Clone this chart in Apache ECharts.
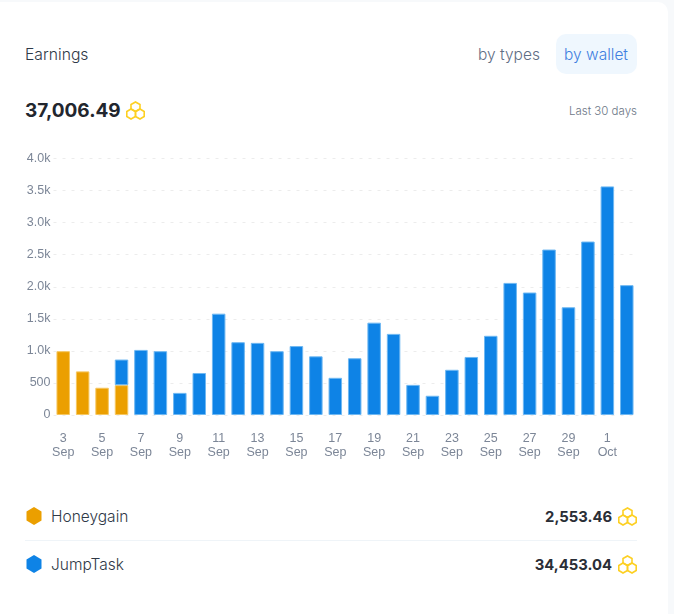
<!DOCTYPE html>
<html lang="en">
<head>
<meta charset="UTF-8">
<title>Earnings</title>
<script src="https://cdn.jsdelivr.net/npm/echarts@6/dist/echarts.min.js"></script>
<style>
  html, body { margin: 0; padding: 0; background: #f7f9fb; }
  body { width: 674px; height: 614px; overflow: hidden; position: relative; font-family: "Inter", "Noto Sans", sans-serif; }
  .card { position: absolute; left: -10px; top: 2px; width: 678px; height: 640px; background: #fff; border-radius: 10px; }
  .txt { position: absolute; white-space: nowrap; line-height: 20px; font-weight: 300; }
  #chart { position: absolute; left: 0; top: 140px; width: 674px; height: 340px; }
  .pill { position: absolute; left: 556px; top: 34px; width: 81px; height: 40px; background: #eff7fe; border-radius: 10px; }
  .rule { position: absolute; left: 25px; top: 540px; width: 612px; height: 1px; background: #eff4f8; }
  svg { position: absolute; }
</style>
</head>
<body>
<div class="card"></div>
<div class="txt" style="left:25px;top:45px;font-size:15.7px;color:#2f3947">Earnings</div>
<div class="txt" style="left:478px;top:45px;font-size:15.5px;color:#5f6e84">by types</div>
<div class="pill"></div>
<div class="txt" style="left:564px;top:45px;font-size:15.5px;color:#3f7fe0">by wallet</div>
<div class="txt" style="left:25px;top:101px;font-size:19px;font-weight:700;color:#22262e">37,006.49</div>
<svg style="left:126px;top:101px" width="19" height="19" viewBox="0 0 19 19"><use href="#coin"/></svg>
<div class="txt" style="right:37px;top:101px;font-size:11.5px;color:#6d7787">Last 30 days</div>

<div id="chart"></div>

<svg style="left:26px;top:507px" width="16" height="18" viewBox="0 0 16 18"><polygon points="8,0 15.5,4.5 15.5,13.5 8,18 .5,13.5 .5,4.5" fill="#eb9f00"/></svg>
<div class="txt" style="left:51px;top:507px;font-size:15.5px;color:#2f3947">Honeygain</div>
<div class="txt" style="right:62px;top:507px;font-size:14.8px;font-weight:700;color:#2a2e36">2,553.46</div>
<svg style="left:618px;top:507px" width="19" height="19" viewBox="0 0 19 19"><use href="#coin"/></svg>
<div class="rule"></div>
<svg style="left:26px;top:555px" width="16" height="18" viewBox="0 0 16 18"><polygon points="8,0 15.5,4.5 15.5,13.5 8,18 .5,13.5 .5,4.5" fill="#0e83e6"/></svg>
<div class="txt" style="left:51px;top:555px;font-size:15.5px;color:#2f3947">JumpTask</div>
<div class="txt" style="right:62px;top:555px;font-size:14.8px;font-weight:700;color:#2a2e36">34,453.04</div>
<svg style="left:618px;top:555px" width="19" height="19" viewBox="0 0 19 19"><use href="#coin"/></svg>

<svg width="0" height="0" style="position:absolute">
  <defs>
    <g id="coin" fill="none" stroke="#fdd023" stroke-width="1.6">
      <polygon points="9.5,1 14,3.5 14,8 9.5,10.5 5,8 5,3.5"/>
      <polygon points="5,8 9.5,10.5 9.5,15.5 5,18 .8,15.5 .8,10.5"/>
      <polygon points="14,8 18.2,10.5 18.2,15.5 14,18 9.5,15.5 9.5,10.5"/>
    </g>
  </defs>
</svg>

<script>
// one entry per day, 3 Sep to 2 Oct
const days = ['3','4','5','6','7','8','9','10','11','12','13','14','15','16','17','18','19','20','21','22','23','24','25','26','27','28','29','30','1','2'];
const months = ['Sep','Sep','Sep','Sep','Sep','Sep','Sep','Sep','Sep','Sep','Sep','Sep','Sep','Sep','Sep','Sep','Sep','Sep','Sep','Sep','Sep','Sep','Sep','Sep','Sep','Sep','Sep','Sep','Oct','Oct'];
const honeygain = [995,680,425,465,null,null,null,null,null,null,null,null,null,null,null,null,null,null,null,null,null,null,null,null,null,null,null,null,null,null];
const jumptask = [null,null,null,400,1015,995,345,655,1580,1135,1125,995,1075,915,580,885,1440,1265,470,300,705,905,1235,2060,1910,2580,1680,2705,3565,2025];

const categories = days.map((d, i) => d + '\n' + months[i]);

const chart = echarts.init(document.getElementById('chart'));
chart.setOption({
  animation: false,
  grid: { left: 53.5, right: 37.5, top: 18.5, bottom: 65 },
  xAxis: {
    type: 'category',
    data: categories,
    axisLine: { show: false },
    axisTick: { show: false },
    axisLabel: { interval: 1, margin: 17, color: '#7c8697', fontSize: 12.5, lineHeight: 14, fontFamily: 'Liberation Sans' }
  },
  yAxis: {
    type: 'value',
    min: 0,
    max: 4000,
    interval: 500,
    axisLine: { show: false },
    axisTick: { show: false },
    axisLabel: {
      margin: 3,
      color: '#7c8697',
      fontSize: 12.5,
      fontFamily: 'Liberation Sans',
      formatter: v => v >= 1000 ? (v / 1000).toFixed(1) + 'k' : String(v)
    },
    splitLine: { lineStyle: { color: '#ececec', type: [3, 6], width: 1 } }
  },
  series: [
    {
      name: 'Honeygain', type: 'bar', stack: 'wallet', barWidth: 13.5, data: honeygain,
      itemStyle: { color: '#eb9f00', borderColor: '#f6c760', borderWidth: 1 }
    },
    {
      name: 'JumpTask', type: 'bar', stack: 'wallet', barWidth: 13.5, data: jumptask,
      itemStyle: { color: '#0e83e6', borderColor: '#6fb8f2', borderWidth: 1 }
    }
  ]
});
</script>
</body>
</html>
